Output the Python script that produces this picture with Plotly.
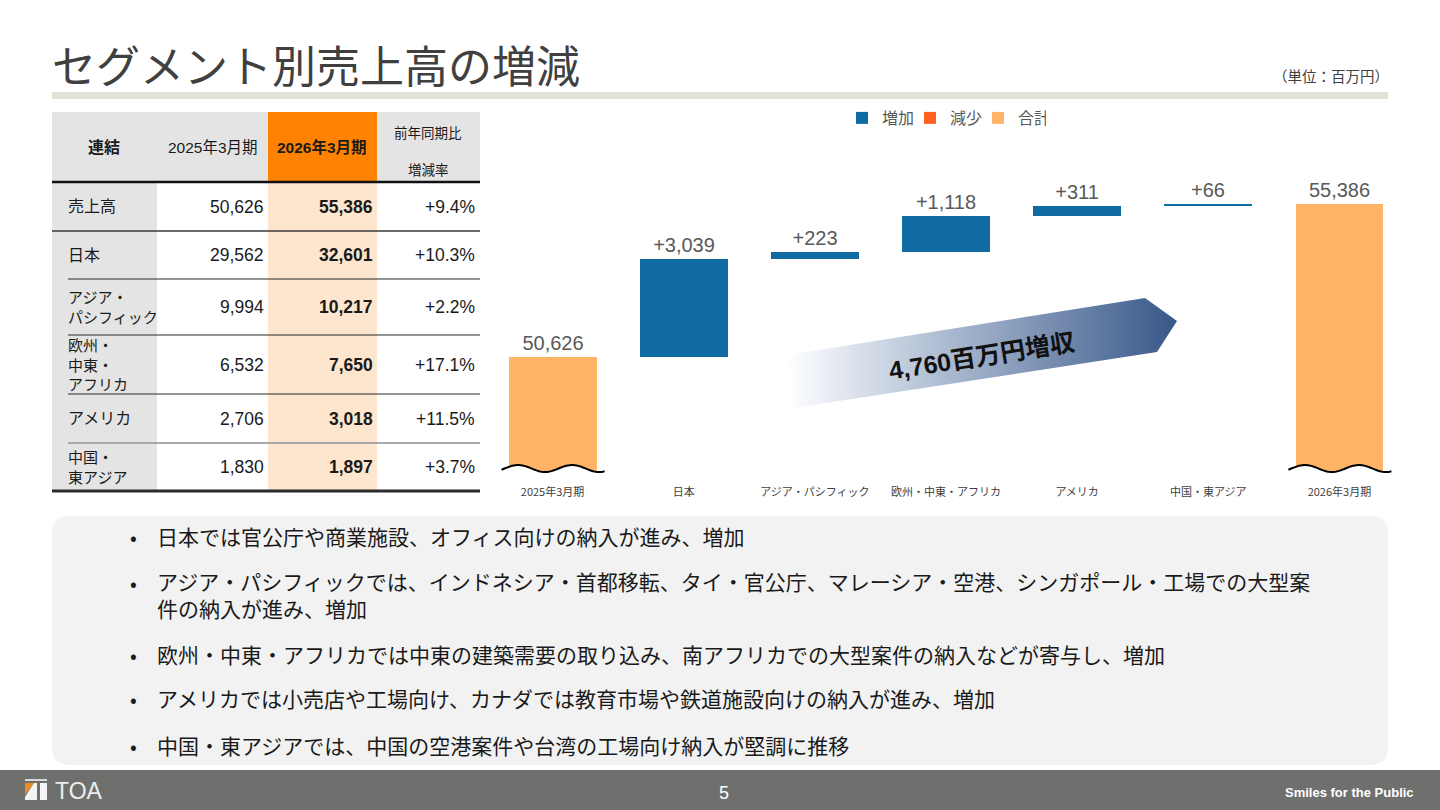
import numpy as np
import plotly.graph_objects as go

W, H = 1440, 810

# ---------------- data ----------------
categories = ["2025年3月期", "日本", "アジア・パシフィック", "欧州・中東・アフリカ",
              "アメリカ", "中国・東アジア", "2026年3月期"]
total_start = 50626
total_end = 55386
segment_increase = [3039, 223, 1118, 311, 66]
segment_decrease = []
growth_text = "4,760百万円増収"

table_header = ["連結", "2025年3月期", "2026年3月期", "前年同期比", "増減率"]
table_rows = ["売上高", "日本", "アジア・<br>パシフィック", "欧州・<br>中東・<br>アフリカ",
              "アメリカ", "中国・<br>東アジア"]
sales_fy2025 = [50626, 29562, 9994, 6532, 2706, 1830]
sales_fy2026 = [55386, 32601, 10217, 7650, 3018, 1897]
yoy_rate = [9.4, 10.3, 2.2, 17.1, 11.5, 3.7]

bullets = [
    "日本では官公庁や商業施設、オフィス向けの納入が進み、増加",
    "アジア・パシフィックでは、インドネシア・首都移転、タイ・官公庁、マレーシア・空港、シンガポール・工場での大型案<br>件の納入が進み、増加",
    "欧州・中東・アフリカでは中東の建築需要の取り込み、南アフリカでの大型案件の納入などが寄与し、増加",
    "アメリカでは小売店や工場向け、カナダでは教育市場や鉄道施設向けの納入が進み、増加",
    "中国・東アジアでは、中国の空港案件や台湾の工場向け納入が堅調に推移",
]

# ---------------- style / layout constants ----------------
C_INC = "#0F6BA2"
C_DEC = "#FF6121"
C_TOT = "#FFB366"
LABEL_C = "#595959"
TXT = "#1a1a1a"
FONT = "Liberation Sans, Noto Sans CJK JP, sans-serif"
JFONT = "Noto Sans CJK JP, sans-serif"

PLOT_L, PLOT_R, PLOT_T, PLOT_B = 487, 1405, 150, 476
Y_RANGE = [46924, 57066]
BAR_W = 0.67

idx = list(range(len(categories)))
inc_x = idx[1:1 + len(segment_increase)]
bases = []
cum = total_start
for v in segment_increase:
    bases.append(cum)
    cum += v

fig = go.Figure()

fig.add_trace(go.Bar(
    x=inc_x, y=segment_increase, base=bases, width=BAR_W, name="増加",
    marker=dict(color=C_INC, line=dict(width=0)),
    text=[f"+{v:,}" for v in segment_increase], textposition="outside",
    outsidetextfont=dict(size=20, color=LABEL_C, family=FONT),
    cliponaxis=False, constraintext="none", hoverinfo="skip"))
fig.add_trace(go.Bar(
    x=[None], y=[None], width=BAR_W, name="減少",
    marker=dict(color=C_DEC, line=dict(width=0)), hoverinfo="skip"))
fig.add_trace(go.Bar(
    x=[idx[0], idx[-1]], y=[total_start, total_end], width=BAR_W, name="合計",
    marker=dict(color=C_TOT, line=dict(width=0)),
    text=[f"{total_start:,}", f"{total_end:,}"], textposition="outside",
    outsidetextfont=dict(size=20, color=LABEL_C, family=FONT),
    cliponaxis=False, constraintext="none", hoverinfo="skip"))

# ---- growth arrow (decoration, pixel coordinates on overlay axes) ----
arrow_x = [787, 1145, 1177, 1157, 793, 787]
arrow_y = [355, 298, 321, 352, 408, 355]
fig.add_trace(go.Scatter(
    x=arrow_x, y=arrow_y, xaxis="x2", yaxis="y2", mode="lines",
    line=dict(width=0, color="rgba(0,0,0,0)"), fill="toself",
    fillgradient=dict(type="horizontal",
                      colorscale=[[0, "rgba(255,255,255,1)"], [0.35, "#B7C4D8"], [1, "#385889"]]),
    showlegend=False, hoverinfo="skip"))

shapes = []
ann = []


def rect(x0, y0, x1, y1, color):
    shapes.append(dict(type="rect", xref="x2", yref="y2", x0=x0, y0=y0, x1=x1, y1=y1,
                       fillcolor=color, line=dict(width=0), layer="below"))


def hline(x0, x1, y, color, w):
    shapes.append(dict(type="line", xref="x2", yref="y2", x0=x0, x1=x1, y0=y, y1=y,
                       line=dict(color=color, width=w), layer="below"))


def text(x, y, s, size, color=TXT, anchor="center", bold=False, family=FONT, angle=0):
    if bold:
        s = f"<b>{s}</b>"
    ann.append(dict(xref="x2", yref="y2", x=x, y=y, text=s, showarrow=False,
                    xanchor=anchor, yanchor="middle", textangle=angle,
                    align=anchor if anchor in ("left", "right") else "center",
                    font=dict(size=size, color=color, family=family)))


# ---- break marks at bottom of total bars ----
ypp = (Y_RANGE[1] - Y_RANGE[0]) / (PLOT_B - PLOT_T)
xpp = len(categories) / (PLOT_R - PLOT_L)
for i in (idx[0], idx[-1]):
    dxs = np.linspace(-51, 52, 60)
    pts = [(i + dx * xpp, Y_RANGE[0] + (7.5 - 3.5 * np.cos(2 * np.pi * (dx + 7.5) / 54)) * ypp)
           for dx in dxs]
    wave = "M " + " L ".join(f"{px:.4f},{py:.2f}" for px, py in pts)
    fill = wave + f" L {pts[-1][0]:.4f},{Y_RANGE[0] - 20 * ypp:.2f} L {pts[0][0]:.4f},{Y_RANGE[0] - 20 * ypp:.2f} Z"
    shapes.append(dict(type="path", xref="x", yref="y", path=fill, fillcolor="white",
                       line=dict(width=0), layer="above"))
    shapes.append(dict(type="path", xref="x", yref="y", path=wave,
                       line=dict(color="black", width=2), layer="above"))

# ---- title ----
text(50, 64, "セグメント別売上高の増減", 44, color="#404040", anchor="left", family=JFONT)
rect(52, 92, 1388, 99, "#E2E2DA")
text(1391, 75, "（単位：百万円）", 14.5, color="#404040", anchor="right", family=JFONT)

# ---- table ----
cx = [52, 157, 268, 377, 480]
ry = [112, 182, 231, 279, 335, 394, 443, 491]
rect(cx[0], ry[0], cx[4], ry[1], "#E4E4E4")
rect(cx[2], ry[0], cx[3], ry[1], "#FF8300")
rect(cx[0], ry[1], cx[1], ry[-1], "#E4E4E4")
rect(cx[2], ry[1], cx[3], ry[-1], "#FDE5CE")
hline(cx[0], cx[4], ry[1], "#111111", 2.5)
hline(cx[0], cx[4], ry[2], "#3a3a3a", 1.5)
for y in ry[3:6]:
    hline(68, cx[4], y, "#2a2a2a", 1.2)
hline(68, cx[4], ry[6], "#A8A8A8", 2)
hline(cx[0], cx[4], ry[7], "#2a2a2a", 3)

text(104, 147, table_header[0], 16, bold=True)
text(213, 147, table_header[1], 15.5)
text(322, 147, table_header[2], 15.5, bold=True)
text(428, 133, table_header[3], 13.5)
text(428, 170, table_header[4], 13.5)
for k, lab in enumerate(table_rows):
    yc = (ry[k + 1] + ry[k + 2]) / 2
    text(66, yc, lab, 15 if "<br>" in lab else 16, anchor="left")
    text(266, yc, f"{sales_fy2025[k]:,}", 17.5, anchor="right")
    text(375, yc, f"{sales_fy2026[k]:,}", 17.5, anchor="right", bold=True)
    text(477, yc, f"+{yoy_rate[k]:.1f}%", 17.5, anchor="right")

# ---- arrow text ----
text(982, 356, growth_text, 25, color="#111111", bold=True, angle=-9)

# ---- comment box ----
shapes.append(dict(type="path", xref="x2", yref="y2", layer="below",
                   path="M 70,516 L 1370,516 Q 1388,516 1388,534 L 1388,747 Q 1388,765 1370,765 "
                        "L 70,765 Q 52,765 52,747 L 52,534 Q 52,516 70,516 Z",
                   fillcolor="#F2F2F2", line=dict(width=0)))
bullet_y = [536, 582, 654, 698, 745]
for s, y in zip(bullets, bullet_y):
    text(133, y, "•", 20, anchor="center", family=JFONT)
    if "<br>" in s:
        ann.append(dict(xref="x2", yref="y2", x=155, y=y - 18, text=s, showarrow=False,
                        xanchor="left", yanchor="top", align="left",
                        font=dict(size=21, color=TXT, family=JFONT)))
    else:
        text(155, y, s, 21, anchor="left", family=JFONT)

# ---- footer ----
rect(0, 770, W, 810, "#6F706E")
shapes.append(dict(type="rect", xref="x2", yref="y2", x0=25, x1=47, y0=779, y1=781,
                   fillcolor="#D8D8D8", line=dict(width=0)))
shapes.append(dict(type="path", xref="x2", yref="y2", path="M 25,783 L 34,783 L 25,795 Z",
                   fillcolor="#F08A24", line=dict(width=0)))
shapes.append(dict(type="path", xref="x2", yref="y2", path="M 34,783 L 37,783 L 37,800 L 25,800 L 25,797 Z",
                   fillcolor="#F4F4F4", line=dict(width=0)))
shapes.append(dict(type="rect", xref="x2", yref="y2", x0=40, x1=47, y0=783, y1=800,
                   fillcolor="#F4F4F4", line=dict(width=0)))
text(53, 791, "TOA", 23, color="#EDEDED", anchor="left")
text(724, 793, "5", 18, color="white")
text(1416, 792, "Smiles for the Public", 13, color="white", anchor="right", bold=True,
     family="Liberation Sans Narrow, Liberation Sans, sans-serif")

fig.update_layout(
    width=W, height=H, margin=dict(l=0, r=0, t=0, b=0),
    paper_bgcolor="white", plot_bgcolor="rgba(0,0,0,0)",
    barmode="overlay", bargap=0,
    showlegend=True,
    legend=dict(orientation="h", x=842 / W, y=1 - 118 / H, xanchor="left", yanchor="middle",
                font=dict(size=16, color=LABEL_C, family=JFONT), bgcolor="rgba(0,0,0,0)",
                entrywidth=23, entrywidthmode="pixels", traceorder="normal"),
    xaxis=dict(domain=[PLOT_L / W, PLOT_R / W], range=[-0.5, len(categories) - 0.5],
               tickmode="array", tickvals=idx, ticktext=categories,
               showgrid=False, zeroline=False, showline=False, ticks="",
               ticklabelstandoff=8,
               tickfont=dict(size=11, color="#404040", family=JFONT)),
    yaxis=dict(domain=[1 - PLOT_B / H, 1 - PLOT_T / H], range=Y_RANGE, visible=False,
               showgrid=False, zeroline=False),
    xaxis2=dict(domain=[0, 1], range=[0, W], visible=False, anchor="y2",
                showgrid=False, zeroline=False),
    yaxis2=dict(domain=[0, 1], range=[H, 0], visible=False, anchor="x2",
                showgrid=False, zeroline=False),
    shapes=shapes, annotations=ann,
)

fig.write_html("out.html")
